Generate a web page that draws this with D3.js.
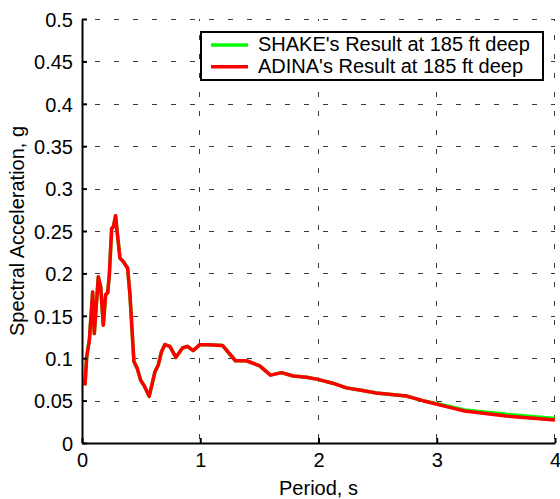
<!DOCTYPE html>
<html>
<head>
<meta charset="utf-8">
<script src="https://cdn.jsdelivr.net/npm/d3@7"></script>
<style>
  html, body { margin: 0; padding: 0; background: #fff; }
  svg { display: block; font-family: "Liberation Sans", Arial, sans-serif; }
</style>
</head>
<body>
<svg id="chart" width="560" height="499"></svg>
<script>
// Response spectra (5% damping) at 185 ft depth
const period = [0.025, 0.04, 0.062, 0.09, 0.104, 0.138, 0.158, 0.18, 0.2, 0.217, 0.231, 0.251, 0.265, 0.284, 0.298,
  0.321, 0.349, 0.386, 0.405, 0.439, 0.467, 0.496, 0.524, 0.568, 0.617, 0.645, 0.673, 0.701, 0.743, 0.794, 0.85,
  0.892, 0.94, 0.997, 1.067, 1.188, 1.298, 1.39, 1.503, 1.594, 1.687, 1.785, 1.898, 1.996, 2.12, 2.236, 2.348,
  2.489, 2.658, 2.742, 2.883, 2.995, 3.108, 3.235, 3.587, 4.0];

const adina = [0.068, 0.102, 0.121, 0.178, 0.129, 0.196, 0.184, 0.139, 0.175, 0.177, 0.198, 0.253, 0.255, 0.268, 0.248,
  0.218, 0.214, 0.206, 0.176, 0.096, 0.088, 0.074, 0.068, 0.055, 0.084, 0.092, 0.108, 0.116, 0.114, 0.101, 0.112,
  0.114, 0.109, 0.116, 0.116, 0.115, 0.097, 0.097, 0.091, 0.080, 0.083, 0.079, 0.0775, 0.075, 0.0705, 0.065, 0.0625,
  0.059, 0.0566, 0.0554, 0.0499, 0.046, 0.042, 0.0377, 0.0318, 0.027];

const shake = [0.068, 0.102, 0.121, 0.178, 0.129, 0.196, 0.184, 0.139, 0.175, 0.177, 0.198, 0.253, 0.255, 0.268, 0.248,
  0.218, 0.214, 0.206, 0.176, 0.096, 0.088, 0.074, 0.068, 0.055, 0.084, 0.092, 0.108, 0.116, 0.114, 0.101, 0.112,
  0.114, 0.109, 0.116, 0.116, 0.115, 0.097, 0.097, 0.091, 0.080, 0.083, 0.079, 0.0775, 0.075, 0.0705, 0.065, 0.0625,
  0.059, 0.0566, 0.0554, 0.0499, 0.0465, 0.043, 0.039, 0.0338, 0.029];

const xTicks = [0, 1, 2, 3, 4];
const xTickLabels = ["0", "1", "2", "3", "4"];
const yTicks = [0, 0.05, 0.1, 0.15, 0.2, 0.25, 0.3, 0.35, 0.4, 0.45, 0.5];
const yTickLabels = ["0", "0.05", "0.1", "0.15", "0.2", "0.25", "0.3", "0.35", "0.4", "0.45", "0.5"];

const seriesNames = ["SHAKE's Result at 185 ft deep", "ADINA's Result at 185 ft deep"];
const seriesColors = ["#00ff00", "#ff0000"];

const svg = d3.select("#chart");
const plotLeft = 82, plotRight = 555, plotTop = 19, plotBottom = 443;
const fontSize = 20;

const x = d3.scaleLinear().domain([0, 4]).range([plotLeft, plotRight]);
const y = d3.scaleLinear().domain([0, 0.5]).range([plotBottom, plotTop]);

// dashed grid
const grid = svg.append("g").attr("stroke", "#3a3a3a").attr("stroke-width", 1)
  .attr("stroke-dasharray", "5,14");
grid.selectAll("line.h").data(yTicks.filter(d => d > 0)).join("line").attr("class", "h")
  .attr("x1", plotLeft).attr("x2", plotRight)
  .attr("y1", d => Math.round(y(d)) + 0.5).attr("y2", d => Math.round(y(d)) + 0.5)
  .attr("stroke-dashoffset", -13);
grid.selectAll("line.v").data(xTicks.filter(d => d > 0)).join("line").attr("class", "v")
  .attr("y1", plotBottom).attr("y2", plotTop)
  .attr("x1", d => Math.round(x(d)) - 0.5).attr("x2", d => Math.round(x(d)) - 0.5)
  .attr("stroke-dashoffset", -4);

// curves
const line = d3.line().x(d => x(d[0])).y(d => y(d[1]));
const series = [shake, adina];
series.forEach((vals, i) => {
  svg.append("path")
    .datum(period.map((p, k) => [p, vals[k]]))
    .attr("fill", "none")
    .attr("stroke", seriesColors[i])
    .attr("stroke-width", 3.5)
    .attr("stroke-linejoin", "round")
    .attr("d", line);
});

// axes
const xAxis = d3.axisBottom(x).tickValues(xTicks)
  .tickFormat((d, i) => xTickLabels[i]).tickSizeInner(-5).tickSizeOuter(0).tickPadding(10);
const yAxis = d3.axisLeft(y).tickValues(yTicks)
  .tickFormat((d, i) => yTickLabels[i]).tickSizeInner(-5).tickSizeOuter(0).tickPadding(9);

const gx = svg.append("g").attr("transform", `translate(0,${plotBottom})`).call(xAxis);
const gy = svg.append("g").attr("transform", `translate(${plotLeft},0)`).call(yAxis);
[gx, gy].forEach(g => {
  g.select(".domain").attr("stroke", "#000").attr("stroke-width", 2);
  g.selectAll(".tick line").attr("stroke", "#000").attr("stroke-width", 2);
  g.selectAll(".tick text").attr("fill", "#000")
    .style("font-size", fontSize + "px").style("font-family", '"Liberation Sans", Arial, sans-serif');
});
gy.selectAll(".tick text").attr("dy", "0.36em");

// axis titles
svg.append("text")
  .attr("x", (plotLeft + plotRight) / 2).attr("y", 495)
  .attr("text-anchor", "middle").style("font-size", fontSize + "px")
  .text("Period, s");
svg.append("text")
  .attr("transform", `translate(24,${(plotTop + plotBottom) / 2}) rotate(-90)`)
  .attr("text-anchor", "middle").style("font-size", fontSize + "px")
  .text("Spectral Acceleration, g");

// legend
const lg = svg.append("g");
lg.append("rect").attr("x", 201).attr("y", 32).attr("width", 342).attr("height", 48)
  .attr("fill", "#fff").attr("stroke", "#000").attr("stroke-width", 2);
seriesNames.forEach((name, i) => {
  const ly = 45 + i * 21.7;
  lg.append("line").attr("x1", 211).attr("x2", 248).attr("y1", ly).attr("y2", ly)
    .attr("stroke", seriesColors[i]).attr("stroke-width", 3.5);
  lg.append("text").attr("x", 258).attr("y", ly + 5.8)
    .style("font-size", fontSize + "px").text(name);
});
</script>
</body>
</html>
